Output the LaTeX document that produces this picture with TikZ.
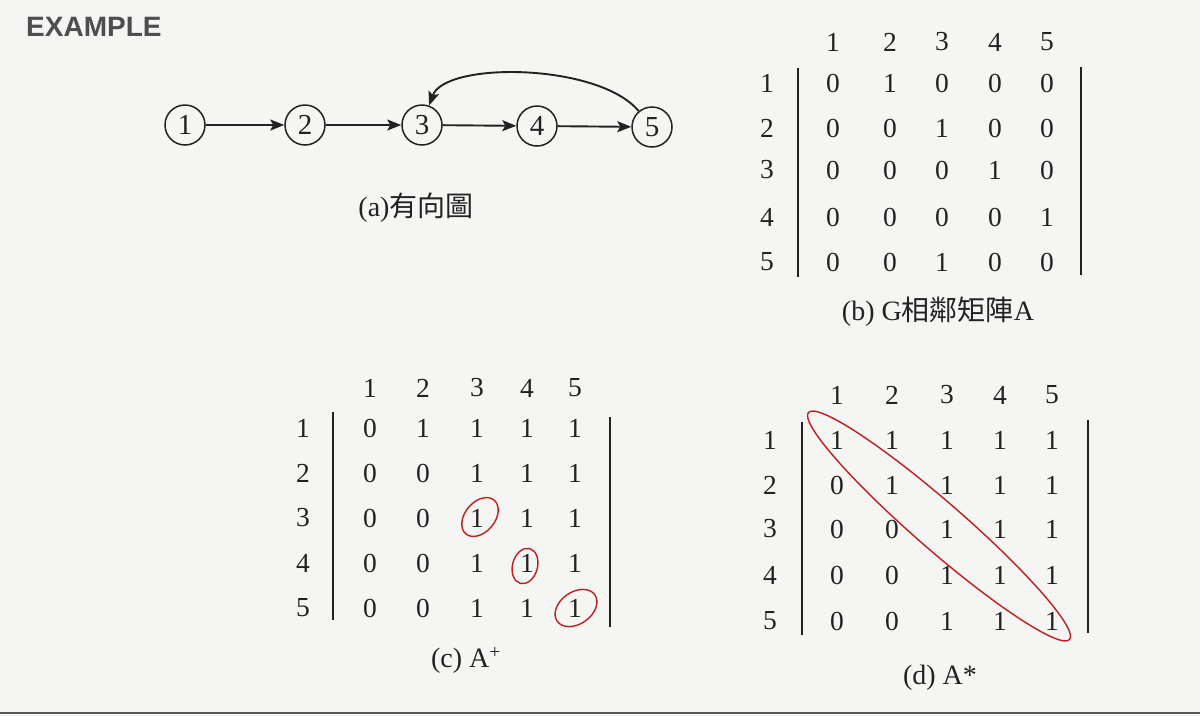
\documentclass[tikz,border=0pt]{standalone}
\usepackage{fontspec}
\setmainfont{Liberation Serif}
\newfontfamily\cjk{Noto Sans CJK TC}
\newfontfamily\hdrfont{Liberation Sans}
\usetikzlibrary{arrows.meta}
\definecolor{ink}{HTML}{222222}
\definecolor{paper}{HTML}{F5F5F3}
\definecolor{mark}{HTML}{C01E1E}
\newcommand\mymatrix[6]{%
  \foreach \cx [count=\c] in {#2} {\node[num] (#1-h\c) at (\cx,#5) {\c};}
  \foreach \ry [count=\r] in {#3} {\node[num] (#1-r\r) at (#4,\ry) {\r};}
  \foreach \row [count=\r] in {#6} {
    \foreach \v [count=\c] in \row {\node[num] (#1-\r-\c) at (#1-h\c |- #1-r\r) {\v};}
  }
}
\begin{document}
\begin{tikzpicture}[x=1pt,y=-1pt,
  vert/.style={circle,draw=ink,line width=1.5pt,minimum size=40pt,inner sep=0pt,font=\fontsize{29}{29}\selectfont,text=ink},
  edge/.style={draw=ink,line width=1.9pt,-{Stealth[length=14pt,width=11pt,inset=3pt]}},
  num/.style={font=\fontsize{27.5}{27.5}\selectfont,text=ink,inner sep=0pt},
  captext/.style={font=\fontsize{28}{28}\selectfont,text=ink,inner sep=0pt},
  bar/.style={draw=ink,line width=2.8pt},
  ring/.style={draw=mark,line width=1.4pt}]
\fill[paper] (0,0) rectangle (1200,716);
\useasboundingbox (0,0) rectangle (1200,716);
\draw[gray!70!black,line width=2pt] (0,713) -- (1200,713);
% header
\node[font=\hdrfont\bfseries\fontsize{28}{28}\selectfont,text=ink!80,anchor=west,inner sep=0pt] (title) at (26,27) {EXAMPLE};
% graph
\node[vert] (n1) at (185,125) {1};
\node[vert] (n2) at (305,125) {2};
\node[vert] (n3) at (422,125) {3};
\node[vert] (n4) at (537,126) {4};
\node[vert] (n5) at (652,127) {5};
\draw[edge] (n1) -- (n2);
\draw[edge] (n2) -- (n3);
\draw[edge] (n3) -- (n4);
\draw[edge] (n4) -- (n5);
\draw[edge] (n5.130) .. controls (599,63) and (445,61) .. (n3.70);
\node[captext] (capa) at (416,208) {(a){\cjk 有向圖}};
% matrix b
\mymatrix{b}{833,890,942,995,1047}{83,128,170,217,262}{767}{42}{{0,1,0,0,0},{0,0,1,0,0},{0,0,0,1,0},{0,0,0,0,1},{0,0,1,0,0}}
\draw[bar] (798,68) -- (798,277);
\draw[bar] (1081,67) -- (1081,275);
\node[captext] (capb) at (938,312) {(b) G{\cjk 相鄰矩陣}A};
% matrix c
\mymatrix{c}{370,423,477,527,575}{428,473,518,563,608}{303}{388}{{0,1,1,1,1},{0,0,1,1,1},{0,0,1,1,1},{0,0,1,1,1},{0,0,1,1,1}}
\draw[bar] (333,412) -- (333,620);
\draw[bar] (610,417) -- (610,627);
\node[captext] (capc) at (466,660) {(c) A\textsuperscript{+}};
\draw[ring,rotate around={50:(480,517)}] (480,517) ellipse [x radius=22pt,y radius=15pt];
\draw[ring,rotate around={75:(525,566)}] (525,566) ellipse [x radius=18pt,y radius=12.5pt];
\draw[ring,rotate around={35:(576,608)}] (576,608) ellipse [x radius=23pt,y radius=16pt];
% matrix d
\mymatrix{d}{837,892,947,1000,1052}{440,485,529,575,621}{770}{395}{{1,1,1,1,1},{0,1,1,1,1},{0,0,1,1,1},{0,0,1,1,1},{0,0,1,1,1}}
\draw[bar] (802,422) -- (802,635);
\draw[bar] (1088,420) -- (1088,633);
\node[captext] (capd) at (940,678) {(d) A*};
\draw[ring,rotate around={-41:(939,526)}] (939,526) ellipse [x radius=173pt,y radius=24pt];
\end{tikzpicture}
\end{document}
